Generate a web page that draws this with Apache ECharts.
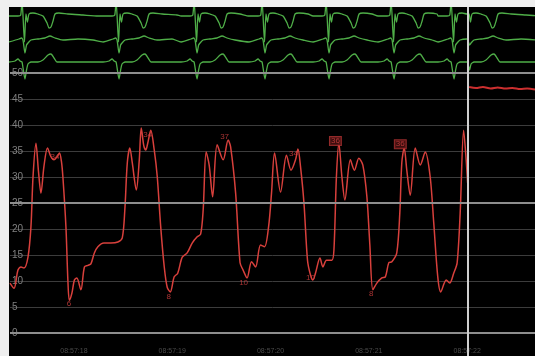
<!DOCTYPE html>
<html><head><meta charset="utf-8">
<script src="https://cdn.jsdelivr.net/npm/echarts@6/dist/echarts.min.js"></script>
<style>
html,body{margin:0;padding:0;background:#efefef;width:535px;height:356px;overflow:hidden}
#c{position:absolute;left:9px;top:7px;width:526px;height:349px;background:#000}
</style></head><body><div id="c"></div>
<script>
// time axis: seconds after 08:57:17
const xMin = 0.350, xMax = 5.690;
const tickSeconds = [1, 2, 3, 4, 5];
const timeLabels = ['08:57:18', '08:57:19', '08:57:20', '08:57:21', '08:57:22'];
const cursorTime = 5.013;

// pressure trace (current sweep)
const pressureTime = [0.350,0.391,0.431,0.462,0.492,0.533,0.563,0.584,0.614,0.640,
0.665,0.695,0.731,0.766,0.797,0.832,0.853,0.873,0.888,0.919,
0.939,0.954,0.980,1.005,1.030,1.071,1.107,1.142,1.173,1.208,
1.244,1.305,1.376,1.447,1.492,1.518,1.543,1.569,1.594,1.635,
1.665,1.685,1.711,1.731,1.751,1.782,1.817,1.848,1.883,1.919,
1.949,1.980,2.020,2.056,2.102,2.152,2.203,2.254,2.289,2.315,
2.345,2.376,2.411,2.457,2.518,2.569,2.594,2.645,2.690,2.721,
2.761,2.807,2.848,2.898,2.939,2.980,3.010,3.041,3.102,3.162,
3.208,3.254,3.279,3.305,3.340,3.376,3.406,3.431,3.457,3.503,
3.533,3.569,3.624,3.645,3.670,3.695,3.726,3.756,3.812,3.853,
3.898,3.939,3.980,4.010,4.041,4.081,4.132,4.168,4.203,4.234,
4.284,4.315,4.335,4.360,4.386,4.421,4.472,4.523,4.574,4.624,
4.660,4.701,4.731,4.787,4.822,4.863,4.898,4.929,4.964,4.990,
5.005];
const pressureValue = [9.6,8.6,12.1,12.7,12.5,14.6,20.4,30,36.5,31,
26.9,32,35.6,33.9,33.3,34,34.6,33,30,20.4,
10,6.3,7.7,10.2,10.6,8.3,12.7,13,13.3,15.4,
16.6,17.3,17.3,17.5,18.3,23.7,32.7,35.6,32.7,27.5,
33.3,39.4,36,35.2,36.5,39,35.2,30,20.4,12.7,
8.8,7.9,10.8,11.5,14.6,15.4,17.3,18.5,19,23.7,
34.8,32.3,26.2,36.2,33.3,37.1,35.8,26.9,13.5,12.1,
10.6,13.7,12.7,16.9,16.6,20.4,26.9,34.6,27.1,34.2,
31.3,33.3,35.4,32,25,14,11.2,10.2,11.5,14.4,
12.7,14,14,16,30,36.5,30,25.6,33.3,31.3,
33.6,32.3,26.2,17,8.3,9.6,10.6,10.8,13.5,13.7,
15.4,23.1,32.7,35.6,31.3,26.5,35.6,32.3,34.8,30,
21.2,10.8,7.9,10.2,9.6,11.5,13.5,23.1,39,33.3,
28.8];

// previous sweep after the cursor
const oldPressureTime = [5.02,5.09,5.16,5.24,5.31,5.39,5.46,5.54,5.61,5.69];
const oldPressureValue = [47.3,47.1,47.3,47.0,47.2,47.0,47.1,46.9,47.0,46.8];

// beat annotations
const annotTime = [0.807,0.949,1.751,1.964,2.533,2.726,3.234,3.406,3.660,4.025,4.320];
const annotValue = [33.8,5.6,38.1,6.9,37.7,9.6,34.4,10.6,36.9,7.5,36.3];
const annotText = ['34','6','34','8','37','10','34','10','36','8','36'];
const annotBoxed = [false,false,false,false,false,false,false,false,true,false,true];

// ECG: R-wave times and lead templates (ms offset from R, mV)
const beatTimes = [0.492,1.447,2.239,2.929,3.579,4.239,4.848];
const oldSweepBeat = 4.990;
const lead1Ms = [-142,-51,-23,-10,15,30,45,61,101,152,203,244,264,284,305,325,365,457,609,761];
const lead1Mv = [0,0,0.05,0.8,-1.3,0.1,-0.3,0.1,0.15,0.1,0,-0.35,-0.6,-0.55,-0.25,0.1,0.15,0.1,0.05,0];
const lead2Ms = [-142,-41,-15,0,20,36,51,81,152,223,274,325,406,558,711];
const lead2Mv = [-0.05,0.1,0.15,0.05,-0.6,-0.2,-0.1,0.05,0.1,0.15,0.25,0.15,0.05,0.1,0.05];
const lead3Ms = [-142,-81,-51,-30,-10,20,36,51,81,152,203,254,284,315,345,406,609,761];
const lead3Mv = [0,0.05,0.15,0.05,0,-0.85,-0.4,-0.1,0,0,0.1,0.35,0.4,0.2,0,0,0,0];

// y ticks
const brightLines = [0,25,50];

function buildLead(ms, mv, offset) {
  const pts = [];
  beatTimes.forEach((r, i) => {
    const limit = i + 1 < beatTimes.length ? beatTimes[i + 1] + ms[0] / 1000 : cursorTime;
    for (let k = 0; k < ms.length; k++) {
      const t = r + ms[k] / 1000;
      if (t < limit) pts.push([t, offset + mv[k]]);
    }
  });
  for (let k = 0; k < ms.length; k++) {
    const t = oldSweepBeat + ms[k] / 1000;
    if (t > cursorTime + 0.005) pts.push([t, offset + mv[k]]);
  }
  return pts;
}

const chart = echarts.init(document.getElementById('c'), null, {renderer: 'canvas'});
const green = '#4fae48';
const red = '#d8403c';
const font = 'Liberation Sans, Arial, sans-serif';

const ecgSeries = (data) => ({
  type: 'line', xAxisIndex: 0, yAxisIndex: 0, data, showSymbol: false, smooth: 0.2,
  lineStyle: {color: green, width: 1.3}, silent: true, z: 3
});

chart.setOption({
  animation: false,
  backgroundColor: 'transparent',
  grid: [
    {left: 0, right: 0, top: 0, height: 73},
    {left: 0, right: 0, top: 66, bottom: 23},
    {left: 0, right: 0, top: 0, bottom: 0}
  ],
  xAxis: [
    {type: 'value', gridIndex: 0, min: xMin, max: xMax, show: false},
    {type: 'value', gridIndex: 1, min: xMin, max: xMax,
     axisLine: {show: false}, axisTick: {show: false}, splitLine: {show: false},
     axisLabel: {customValues: tickSeconds, color: '#4a4a4a', fontSize: 7, margin: 15, fontFamily: font,
       formatter: v => timeLabels[tickSeconds.indexOf(Math.round(v))] || ''}},
    {type: 'value', gridIndex: 2, min: xMin, max: xMax, show: false}
  ],
  yAxis: [
    {type: 'value', gridIndex: 0, min: 0, max: 3.65, show: false},
    {type: 'value', gridIndex: 1, min: 0, max: 50, interval: 5,
     axisLine: {show: false}, axisTick: {show: false},
     axisLabel: {inside: true, margin: 2, color: '#808080', fontSize: 10, fontFamily: font},
     splitLine: {show: true, lineStyle: {color: '#3c3c3c', width: 1}}},
    {type: 'value', gridIndex: 2, min: 0, max: 1, show: false}
  ],
  series: [
    ecgSeries(buildLead(lead1Ms, lead1Mv, 3.2)),
    ecgSeries(buildLead(lead2Ms, lead2Mv, 1.95)),
    ecgSeries(buildLead(lead3Ms, lead3Mv, 0.9)),
    {type: 'line', xAxisIndex: 1, yAxisIndex: 1, data: [], silent: true, z: 1,
     markLine: {symbol: 'none', silent: true, label: {show: false}, animation: false,
       lineStyle: {color: '#8e8e8e', width: 2, type: 'solid'},
       data: brightLines.map(v => ({yAxis: v}))}},
    {type: 'line', xAxisIndex: 1, yAxisIndex: 1, showSymbol: false, smooth: 0.3, silent: true, z: 3,
     lineStyle: {color: red, width: 1.5},
     data: pressureTime.map((t, i) => [t, pressureValue[i]])},
    {type: 'line', xAxisIndex: 1, yAxisIndex: 1, showSymbol: false, smooth: 0.3, silent: true, z: 3,
     lineStyle: {color: '#cc2f2f', width: 2},
     data: oldPressureTime.map((t, i) => [t, oldPressureValue[i]])},
    {type: 'scatter', xAxisIndex: 1, yAxisIndex: 1, symbolSize: 0, itemStyle: {color: 'rgba(0,0,0,0)'}, silent: true, z: 4,
     data: annotTime.map((t, i) => ({
       value: [t, annotValue[i]],
       label: annotBoxed[i]
         ? {show: true, position: 'inside', formatter: annotText[i], color: '#d24040', fontSize: 8, fontFamily: font,
            backgroundColor: '#4a1212', borderColor: '#b83434', borderWidth: 1, padding: [0, 1]}
         : {show: true, position: 'inside', formatter: annotText[i], color: '#d24040', fontSize: 8, fontFamily: font}
     }))},
    {type: 'line', xAxisIndex: 2, yAxisIndex: 2, data: [], silent: true, z: 10,
     markLine: {symbol: 'none', silent: true, label: {show: false}, animation: false,
       lineStyle: {color: '#cfcfcf', width: 2, type: 'solid'},
       data: [{xAxis: cursorTime}]}}
  ]
});
</script></body></html>
